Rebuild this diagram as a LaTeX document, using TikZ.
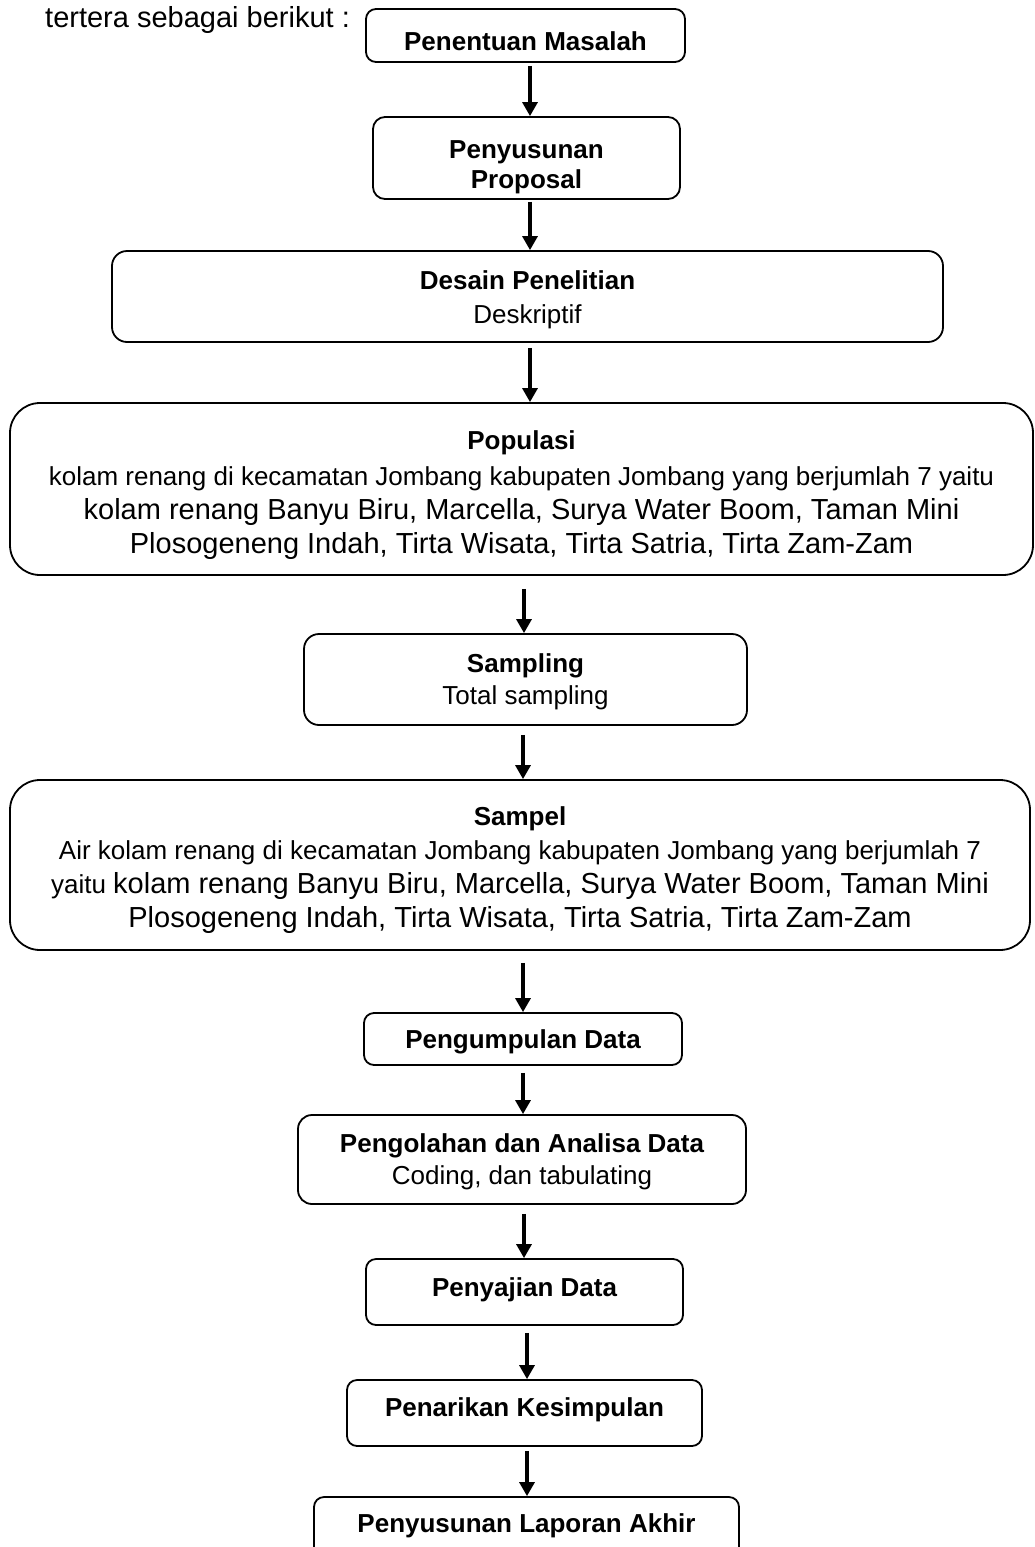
\documentclass[tikz,border=0pt]{standalone}
\usepackage{fontspec}
\setmainfont{Liberation Sans}
\usetikzlibrary{arrows.meta}

\newcommand{\smalltxt}{\fontsize{26}{34}\selectfont}
\newcommand{\bigtxt}{\fontsize{29}{34}\selectfont}

\tikzset{
  flowbox/.style={draw, line width=1.8pt, rounded corners=10pt, inner sep=0pt},
  boxtext/.style={align=center, inner sep=0pt, font=\smalltxt},
  flow/.style={line width=3.2pt, -{Triangle[width=15pt,length=14pt]}}
}

\begin{document}
\begin{tikzpicture}[x=1pt,y=1pt,yscale=-1,xscale=1]
\useasboundingbox (0,0) rectangle (1035,1547);

% Text Node
\node (intro) [anchor=west, font=\bigtxt, inner sep=0pt] at (45,20) {tertera sebagai berikut :};

% Boxes
\node (pm) [flowbox, minimum width=319pt, minimum height=53pt] at (525.5,35.5) {};
\node (pp) [flowbox, rounded corners=12pt, minimum width=307pt, minimum height=82pt] at (526.5,158) {};
\node (dp) [flowbox, rounded corners=15pt, minimum width=831pt, minimum height=91pt] at (527.5,296.5) {};
\node (pop) [flowbox, rounded corners=30pt, minimum width=1023pt, minimum height=172pt] at (521.5,489) {};
\node (smp) [flowbox, rounded corners=15pt, minimum width=443pt, minimum height=91pt] at (525.5,679.5) {};
\node (spl) [flowbox, rounded corners=30pt, minimum width=1020pt, minimum height=170pt] at (520,865) {};
\node (pd) [flowbox, minimum width=318pt, minimum height=52pt] at (523,1039) {};
\node (pad) [flowbox, rounded corners=14pt, minimum width=448pt, minimum height=89pt] at (522,1159.5) {};
\node (sd) [flowbox, minimum width=317pt, minimum height=66pt] at (524.5,1292) {};
\node (pk) [flowbox, minimum width=355pt, minimum height=66pt] at (524.5,1413) {};
\node (pla) [flowbox, minimum width=425pt, minimum height=73pt] at (526.5,1533.5) {};

% Box texts
\node (tpm) [boxtext] at (525.5,41) {\bfseries Penentuan Masalah};
\node (tpp) [boxtext] at (526.5,167) {\bfseries Penyusunan\\[-4pt] \bfseries Proposal};
\node (tdp) [boxtext] at (527.5,300) {\bfseries Desain Penelitian\\ Deskriptif};
\node (tpop) [boxtext] at (521.5,495) {\bfseries Populasi\\[2pt]
   kolam renang di kecamatan Jombang kabupaten Jombang yang berjumlah 7 yaitu\\
   {\bigtxt kolam renang Banyu Biru, Marcella, Surya Water Boom, Taman Mini}\\
   {\bigtxt Plosogeneng Indah, Tirta Wisata, Tirta Satria, Tirta Zam-Zam}};
\node (tsmp) [boxtext] at (525.5,682) {\bfseries Sampling\\[-2pt] Total sampling};
\node (tspl) [boxtext] at (520,870) {\bfseries Sampel\\
   Air kolam renang di kecamatan Jombang kabupaten Jombang yang berjumlah 7\\
   yaitu {\bigtxt kolam renang Banyu Biru, Marcella, Surya Water Boom, Taman Mini}\\
   {\bigtxt Plosogeneng Indah, Tirta Wisata, Tirta Satria, Tirta Zam-Zam}};
\node (tpd) [boxtext] at (523,1042) {\bfseries Pengumpulan Data};
\node (tpad) [boxtext] at (522,1162) {\bfseries Pengolahan dan Analisa Data\\[-2pt] Coding, dan tabulating};
\node (tsd) [boxtext] at (524.5,1290) {\bfseries Penyajian Data};
\node (tpk) [boxtext] at (524.5,1410) {\bfseries Penarikan Kesimpulan};
\node (tpla) [boxtext] at (526.5,1526) {\bfseries Penyusunan Laporan Akhir};

% Arrows
\foreach \a/\b/\x/\g in {pm/pp/530/3, pp/dp/530/2, dp/pop/530/5, pop/smp/524/13,
    smp/spl/523/9, spl/pd/523/12, pd/pad/523/7, pad/sd/524/9, sd/pk/527/7, pk/pla/527/4}
  \draw[flow, shorten <=\g pt] (\a.south -| \x,0) -- (\b.north -| \x,0);

\end{tikzpicture}
\end{document}
